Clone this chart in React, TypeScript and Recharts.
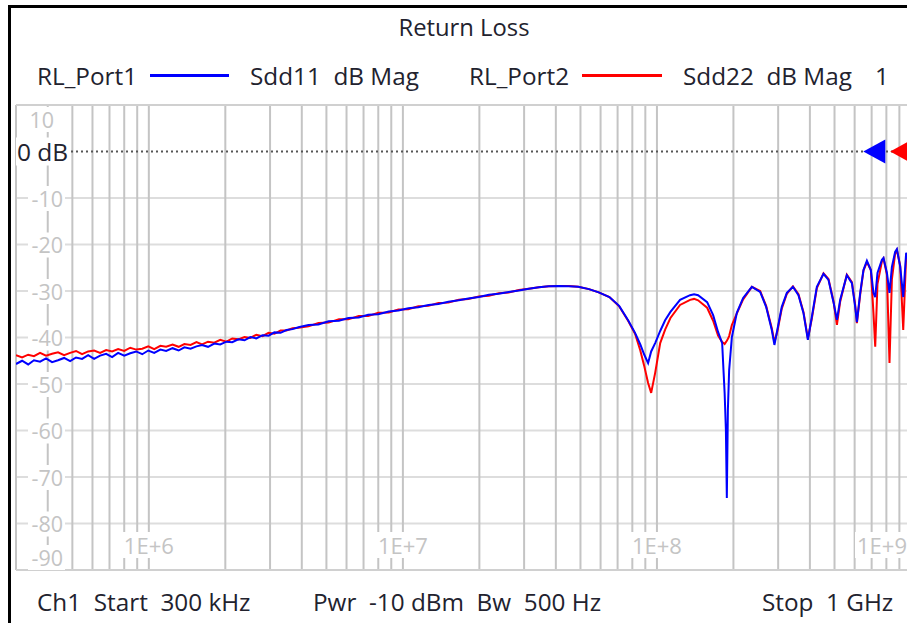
import { CartesianGrid, Line, LineChart, ReferenceDot, ReferenceLine, XAxis, YAxis } from 'recharts';

// sweep points (Hz)
const freqHz = [
  3.0e5, 3.17e5, 3.35e5, 3.53e5, 3.73e5, 3.94e5, 4.16e5, 4.39e5, 4.64e5, 4.9e5,
  5.17e5, 5.46e5, 5.77e5, 6.09e5, 6.43e5, 6.79e5, 7.17e5, 7.57e5, 8.0e5, 8.45e5,
  8.92e5, 9.42e5, 9.95e5, 1.05e6, 1.11e6, 1.17e6, 1.24e6, 1.31e6, 1.38e6, 1.46e6,
  1.54e6, 1.62e6, 1.71e6, 1.81e6, 1.91e6, 2.02e6, 2.13e6, 2.25e6, 2.38e6, 2.51e6,
  2.65e6, 2.8e6, 2.96e6, 3.12e6, 3.3e6, 3.48e6, 3.68e6, 3.88e6,
  4.25e6, 4.65e6, 5.1e6, 5.6e6, 6.1e6, 6.7e6, 7.3e6, 8.0e6, 8.8e6, 9.6e6,
  1.05e7, 1.15e7, 1.26e7, 1.38e7, 1.51e7, 1.66e7, 1.81e7, 1.99e7, 2.18e7, 2.38e7,
  2.61e7, 2.86e7, 3.13e7, 3.43e7, 3.75e7, 4.1e7, 4.5e7, 4.9e7, 5.4e7, 5.9e7,
  6.5e7, 7.1e7, 7.7e7,
  8.2e7, 8.6e7, 8.9e7, 9.23e7, 9.49e7, 9.84e7, 1.03e8, 1.077e8, 1.13e8, 1.233e8,
  1.35e8, 1.4e8, 1.452e8, 1.576e8, 1.664e8, 1.74e8, 1.806e8, 1.83e8, 1.847e8, 1.868e8, 1.884e8,
  1.902e8, 1.924e8, 1.972e8, 2.063e8, 2.184e8, 2.364e8, 2.548e8, 2.69e8, 2.832e8, 2.9e8,
  2.981e8, 3.1e8, 3.246e8, 3.43e8, 3.606e8, 3.773e8, 3.927e8, 4.07e8, 4.26e8, 4.525e8,
  4.734e8, 4.954e8, 5.11e8, 5.263e8, 5.59e8, 5.853e8, 6.03e8, 6.124e8, 6.31e8, 6.5e8,
  6.705e8, 6.95e8, 7.116e8, 7.23e8, 7.38e8, 7.683e8, 7.795e8, 8.04e8, 8.23e8, 8.41e8,
  8.66e8, 8.8e8, 9.07e8, 9.32e8, 9.57e8, 9.84e8, 1.0e9,
];

// RL_Port1 (blue)
const sdd11Db = [
  -45.7, -45.0, -45.8, -44.9, -45.2, -44.5, -45.3, -44.9, -44.4, -45.1,
  -44.3, -44.6, -43.8, -44.6, -43.9, -43.5, -44.2, -43.3, -43.9, -43.4,
  -43.0, -43.6, -42.8, -43.3, -42.6, -42.9, -42.3, -42.8, -42.1, -42.4,
  -41.9, -41.6, -42.0, -41.3, -41.5, -40.9, -41.0, -40.4, -40.6, -39.9,
  -40.2, -39.5, -39.6, -38.9, -39.0, -38.4, -38.2, -37.8,
  -37.3, -37.2, -36.5, -36.4, -35.8, -35.7, -35.1, -35.0, -34.4, -34.2,
  -33.7, -33.5, -33.0, -32.8, -32.3, -32.0, -31.6, -31.3, -30.8, -30.6,
  -30.2, -29.9, -29.5, -29.2, -29.0, -28.9, -29.0, -29.1, -29.6, -30.3,
  -31.3, -33.2, -36.3,
  -39.0, -41.5, -43.6, -45.5, -43.0, -41.2, -38.6, -36.3, -34.5, -31.9,
  -30.9, -30.7, -30.9, -32.4, -35.2, -38.8, -41.2, -47.6, -52.0, -59.9, -74.5,
  -55.6, -47.0, -39.9, -34.7, -31.5, -29.1, -30.2, -33.4, -38.4, -41.6,
  -38.2, -33.4, -30.4, -29.1, -30.9, -34.7, -40.5, -35.6, -29.1, -26.3,
  -27.6, -32.4, -36.2, -31.9, -26.6, -28.3, -33.4, -36.7, -30.4, -25.5,
  -23.5, -25.5, -30.4, -31.3, -26.1, -23.3, -22.9, -26.1, -30.4, -24.8,
  -21.6, -21.0, -24.8, -31.3, -21.8, -24.0, -28.0,
];

// RL_Port2 (red)
const sdd22Db = [
  -43.8, -44.3, -43.7, -44.0, -43.3, -43.9, -43.5, -43.2, -43.8, -43.3,
  -42.9, -43.6, -43.0, -42.8, -43.3, -42.7, -43.0, -42.5, -42.9, -42.2,
  -42.6, -42.4, -41.9, -42.5, -41.8, -42.0, -41.5, -42.0, -41.4, -41.6,
  -41.0, -41.5, -40.9, -41.1, -40.5, -40.9, -40.2, -40.4, -39.9, -40.1,
  -39.4, -39.7, -39.0, -39.2, -38.5, -38.5, -38.0, -37.9,
  -37.6, -36.9, -36.8, -36.1, -36.1, -35.4, -35.4, -34.7, -34.6, -34.0,
  -33.9, -33.3, -33.2, -32.6, -32.5, -31.9, -31.7, -31.2, -31.0, -30.5,
  -30.3, -29.8, -29.5, -29.2, -29.0, -28.9, -28.9, -29.1, -29.6, -30.3,
  -31.3, -33.3, -36.4,
  -39.2, -42.8, -46.0, -49.8, -51.9, -47.6, -41.2, -38.3, -35.8, -33.0,
  -31.9, -31.7, -32.0, -33.6, -36.4, -39.6, -41.0, -41.2, -41.4, -41.0, -40.7,
  -40.3, -39.7, -37.3, -34.8, -31.8, -29.1, -30.0, -33.2, -38.0, -41.0,
  -38.6, -33.8, -30.6, -29.0, -30.7, -34.5, -40.2, -36.0, -29.4, -26.2,
  -27.4, -32.2, -37.3, -32.3, -26.5, -28.1, -33.0, -36.9, -30.8, -25.6,
  -23.8, -25.5, -34.7, -42.0, -28.5, -23.6, -23.0, -26.5, -45.5, -27.5,
  -22.0, -21.2, -24.6, -38.4, -22.5, -24.5, -28.5,
];

const gridFreqs = [
  3e5, 4e5, 5e5, 6e5, 7e5, 8e5, 9e5,
  1e6, 2e6, 3e6, 4e6, 5e6, 6e6, 7e6, 8e6, 9e6,
  1e7, 2e7, 3e7, 4e7, 5e7, 6e7, 7e7, 8e7, 9e7,
  1e8, 2e8, 3e8, 4e8, 5e8, 6e8, 7e8, 8e8, 9e8,
  1e9,
];
const decadeTicks = [1e6, 1e7, 1e8, 1e9];
const decadeLabels = ['1E+6', '1E+7', '1E+8', '1E+9'];
const dbTicks = [10, 0, -10, -20, -30, -40, -50, -60, -70, -80, -90];
const gridDb = [10, -10, -20, -30, -40, -50, -60, -70, -80, -90];
const markerPort1 = 6.49e8;
const markerPort2 = 8.28e8;

const data = freqHz.map((f, i) => ({ f, sdd11: sdd11Db[i], sdd22: sdd22Db[i] }));

const FONT = '"Open Sans", "Noto Sans", sans-serif';
const TEXT = '#22222e';
const AXIS_TEXT = '#c4c4c4';

function DbTick(props: any) {
  const { x, y, payload } = props;
  const v = payload.value;
  if (v === 0) {
    return (
      <g>
        <rect x={x} y={y - 14} width={54} height={28} fill="#fff" />
        <text x={x + 1} y={y} dominantBaseline="central" fontSize={24.5} fill={TEXT} fontFamily={FONT}>
          0 dB
        </text>
      </g>
    );
  }
  let cy = y;
  if (v === 10) cy = y + 14;
  if (v === -90) cy = y - 13;
  return (
    <g>
      <rect x={x + 12} y={cy - 12} width={37} height={25} fill="#fff" />
      <text
        x={v === 10 ? x + 38 : x + 47}
        y={cy}
        textAnchor="end"
        dominantBaseline="central"
        fontSize={21.5}
        fill={AXIS_TEXT}
        fontFamily={FONT}
      >
        {v}
      </text>
    </g>
  );
}

function FreqTick(props: any) {
  const { x, y, payload } = props;
  const label = decadeLabels[decadeTicks.indexOf(payload.value)];
  // the last decade sits on the right edge, so its label is pulled inside
  const last = payload.value === decadeTicks[decadeTicks.length - 1];
  const cx = last ? x - 29 : x;
  return (
    <g>
      <rect x={cx - 27} y={y - 38} width={54} height={26} fill="#fff" />
      <text x={cx} y={y - 25} textAnchor="middle" dominantBaseline="central" fontSize={22} fill={AXIS_TEXT} fontFamily={FONT}>
        {label}
      </text>
    </g>
  );
}

function markerShape(color: string) {
  return (props: any) => {
    const { cx, cy } = props;
    return <polygon points={`${cx},${cy} ${cx + 22},${cy - 12} ${cx + 22},${cy + 12}`} fill={color} />;
  };
}

const txt = (left: number, top: number, s: string, extra: any = {}) => (
  <div
    style={{
      position: 'absolute',
      left,
      top,
      fontSize: 24.3,
      lineHeight: '24px',
      whiteSpace: 'pre',
      color: TEXT,
      ...extra,
    }}
  >
    {s}
  </div>
);

export default function App() {
  return (
    <div
      style={{
        position: 'absolute',
        left: 0,
        top: 0,
        width: 907,
        height: 623,
        overflow: 'hidden',
        background: '#fff',
        fontFamily: FONT,
      }}
    >
      <div
        style={{
          position: 'absolute',
          left: 8,
          top: 5,
          width: 1000,
          height: 1000,
          borderLeft: '3px solid #000',
          borderTop: '3px solid #000',
        }}
      />
      <div style={{ position: 'absolute', left: 0, top: 0 }}>
        <LineChart width={930} height={623} data={data} margin={{ top: 105, right: 19, bottom: 52, left: 15 }}>
          <CartesianGrid vertical={false} horizontalValues={gridDb} stroke="#dddddd" strokeWidth={2} />
          <CartesianGrid horizontal={false} verticalValues={gridFreqs} stroke="#c4c4c4" strokeWidth={2} />
          <ReferenceLine y={10} stroke="#d0d0d0" strokeWidth={2} />
          <ReferenceLine y={-90} stroke="#d0d0d0" strokeWidth={2} />
          <ReferenceLine y={0} stroke="#555" strokeWidth={2} strokeDasharray="2 3" />
          <XAxis
            dataKey="f"
            type="number"
            scale="log"
            domain={[3e5, 1e9]}
            allowDataOverflow
            ticks={decadeTicks}
            height={1}
            tickSize={0}
            tickMargin={0}
            axisLine={false}
            tickLine={false}
            tick={<FreqTick />}
            interval={0}
          />
          <YAxis
            type="number"
            domain={[-90, 10]}
            allowDataOverflow
            ticks={dbTicks}
            width={1}
            tickSize={0}
            tickMargin={0}
            axisLine={false}
            tickLine={false}
            tick={<DbTick />}
            interval={0}
          />
          <Line type="linear" dataKey="sdd22" stroke="#ff0000" strokeWidth={2} dot={false} isAnimationActive={false} />
          <Line type="linear" dataKey="sdd11" stroke="#0000ff" strokeWidth={2} dot={false} isAnimationActive={false} />
          <ReferenceDot x={markerPort1} y={0} r={0} shape={markerShape('#0000ff')} />
          <ReferenceDot x={markerPort2} y={0} r={0} shape={markerShape('#ff0000')} />
        </LineChart>
      </div>

      {txt(464, 15, 'Return Loss', { transform: 'translateX(-50%)', fontSize: 23.8 })}

      {txt(37, 64, 'RL_Port1')}
      <div style={{ position: 'absolute', left: 150, top: 74, width: 79, height: 3, background: '#0000ff' }} />
      {txt(250, 64, 'Sdd11  dB Mag')}
      {txt(469, 64, 'RL_Port2')}
      <div style={{ position: 'absolute', left: 582, top: 74, width: 80, height: 3, background: '#ff0000' }} />
      {txt(683, 64, 'Sdd22  dB Mag')}
      {txt(875, 64, '1')}

      {txt(37, 590, 'Ch1  Start  300 kHz')}
      {txt(313, 590, 'Pwr  -10 dBm  Bw  500 Hz')}
      {txt(762, 590, 'Stop  1 GHz')}
    </div>
  );
}
